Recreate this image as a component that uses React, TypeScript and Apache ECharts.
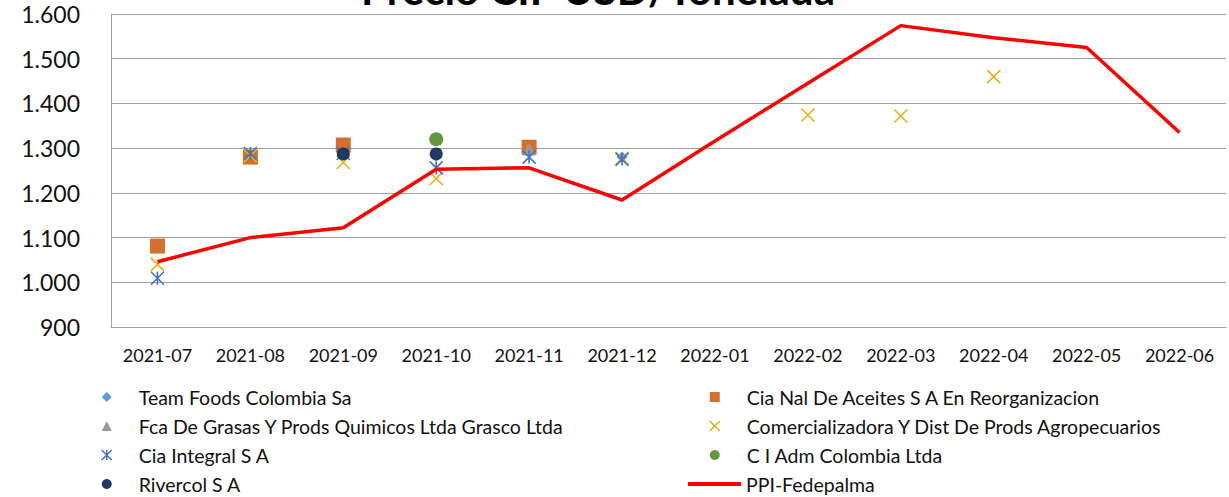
import React, { useEffect, useRef } from "react";
import * as echarts from "echarts";

const categories = [
  "2021-07", "2021-08", "2021-09", "2021-10", "2021-11", "2021-12",
  "2022-01", "2022-02", "2022-03", "2022-04", "2022-05", "2022-06",
];

const teamFoods = [null, null, 1288, 1283, null, 1280, null, null, null, null, null, null];
const ciaNal = [1081, 1280, 1307, null, 1302, null, null, null, null, null, null, null];
const fcaGrasas = [null, null, null, null, 1298, null, null, null, null, null, null, null];
const comercializadora = [1040, 1283, 1268, 1232, null, 1277, null, 1374, 1372, 1460, null, null];
const ciaIntegral = [1009, 1288, 1288, 1256, 1280, 1275, null, null, null, null, null, null];
const ciAdm = [null, null, null, 1320, null, null, null, null, null, null, null, null];
const rivercol = [null, null, 1287, 1287, null, null, null, null, null, null, null, null];
const ppiFedepalma = [1046, 1100, 1122, 1253, 1256, 1184, 1316, 1445, 1574, 1547, 1525, 1335];

const yTicks = { min: 900, max: 1600, interval: 100 };

const FONT = "Lato, 'Open Sans', sans-serif";
const STAR = "path://M0,0L10,10M10,0L0,10M5,0L5,10";
const CROSS = "path://M0,0L10,10M10,0L0,10";

const NAMES = {
  team: "Team Foods Colombia Sa",
  nal: "Cia Nal De Aceites S A En Reorganizacion",
  fca: "Fca De Grasas Y Prods Quimicos Ltda Grasco Ltda",
  com: "Comercializadora Y Dist De Prods Agropecuarios",
  integ: "Cia Integral S A",
  adm: "C I Adm Colombia Ltda",
  riv: "Rivercol S A",
  ppi: "PPI-Fedepalma",
};

const COLORS = {
  team: "#5B9BD5",
  nal: "#D46F2C",
  fca: "#999999",
  com: "#E8B010",
  integ: "#4472C4",
  adm: "#62993E",
  riv: "#1F3864",
  ppi: "#FF0000",
};

function fmt(v: number) {
  if (v >= 1000) {
    return Math.floor(v / 1000) + "." + String(v % 1000).padStart(3, "0");
  }
  return String(v);
}

export default function App() {
  const ref = useRef<HTMLDivElement>(null);
  useEffect(() => {
    if (!ref.current) return;
    const chart = echarts.init(ref.current, null, { renderer: "svg" });
    const scatter = (key: keyof typeof NAMES, data: (number | null)[], symbol: string, size: number, stroke = false) => ({
      type: "scatter",
      name: NAMES[key],
      data: data.map((v) => (v == null ? "-" : v)),
      symbol,
      symbolSize: size,
      itemStyle: stroke
        ? { color: "rgba(0,0,0,0)", borderColor: COLORS[key], borderWidth: 1.6, opacity: 1 }
        : { color: COLORS[key], opacity: 1 },
      emphasis: { disabled: true },
    });
    const legendText = { fontFamily: FONT, fontSize: 19.5, color: "#111", lineHeight: 20, padding: [0, 0, 0, 22] };
    const legendItem = (key: keyof typeof NAMES, stroke = false) =>
      stroke
        ? { name: NAMES[key], itemStyle: { color: "rgba(0,0,0,0)", borderColor: COLORS[key], borderWidth: 1.5, opacity: 1 } }
        : { name: NAMES[key], itemStyle: { opacity: 1 } };
    chart.setOption({
      animation: false,
      title: {
        text: "Precio CIF USD/Tonelada",
        left: 598,
        textAlign: "center",
        top: -32,
        padding: 0,
        textStyle: { fontFamily: FONT, fontSize: 42, fontWeight: "bold", color: "#000" },
      },
      grid: { left: 111, top: 14, width: 1115, height: 313, containLabel: false },
      legend: [
        {
          orient: "vertical",
          left: 101,
          top: 387,
          itemWidth: 10,
          itemHeight: 10,
          itemGap: 9,
          padding: 0,
          textStyle: legendText,
          data: [legendItem("team"), legendItem("fca"), legendItem("integ", true), legendItem("riv")],
        },
        {
          orient: "vertical",
          left: 709,
          top: 387,
          itemWidth: 10,
          itemHeight: 10,
          itemGap: 9,
          padding: 0,
          textStyle: legendText,
          data: [legendItem("nal"), legendItem("com", true), legendItem("adm")],
        },
        {
          orient: "vertical",
          left: 688,
          top: 474,
          itemWidth: 53,
          itemHeight: 4,
          padding: 0,
          textStyle: { ...legendText, padding: [0, 0, 0, 0] },
          data: [{ name: NAMES.ppi, icon: "rect", itemStyle: { color: COLORS.ppi, opacity: 1 } }],
        },
      ],
      xAxis: {
        type: "category",
        data: categories,
        boundaryGap: true,
        axisLine: { show: true, lineStyle: { color: "#a0a0a0", width: 1 } },
        axisTick: { show: false },
        axisLabel: { fontFamily: FONT, fontSize: 18, color: "#111", margin: 19 },
      },
      yAxis: {
        type: "value",
        min: yTicks.min,
        max: yTicks.max,
        interval: yTicks.interval,
        axisLine: { show: true, lineStyle: { color: "#a0a0a0", width: 1 } },
        axisTick: { show: false },
        splitLine: { show: true, lineStyle: { color: "#a0a0a0", width: 1 } },
        axisLabel: { fontFamily: FONT, fontSize: 23, color: "#111", margin: 31, formatter: fmt },
      },
      series: [
        scatter("team", teamFoods, "diamond", 11),
        scatter("nal", ciaNal, "rect", 15),
        scatter("fca", fcaGrasas, "triangle", 13),
        scatter("com", comercializadora, CROSS, 13, true),
        scatter("integ", ciaIntegral, STAR, 13, true),
        scatter("adm", ciAdm, "circle", 14),
        scatter("riv", rivercol, "circle", 13),
        {
          type: "line",
          name: NAMES.ppi,
          data: ppiFedepalma,
          symbol: "none",
          lineStyle: { color: COLORS.ppi, width: 3.5 },
          itemStyle: { color: COLORS.ppi },
          emphasis: { disabled: true },
        },
      ],
    });
    return () => chart.dispose();
  }, []);
  return (
    <div
      ref={ref}
      style={{ position: "fixed", left: 0, top: 0, width: 1229, height: 497, background: "#fff" }}
    />
  );
}
